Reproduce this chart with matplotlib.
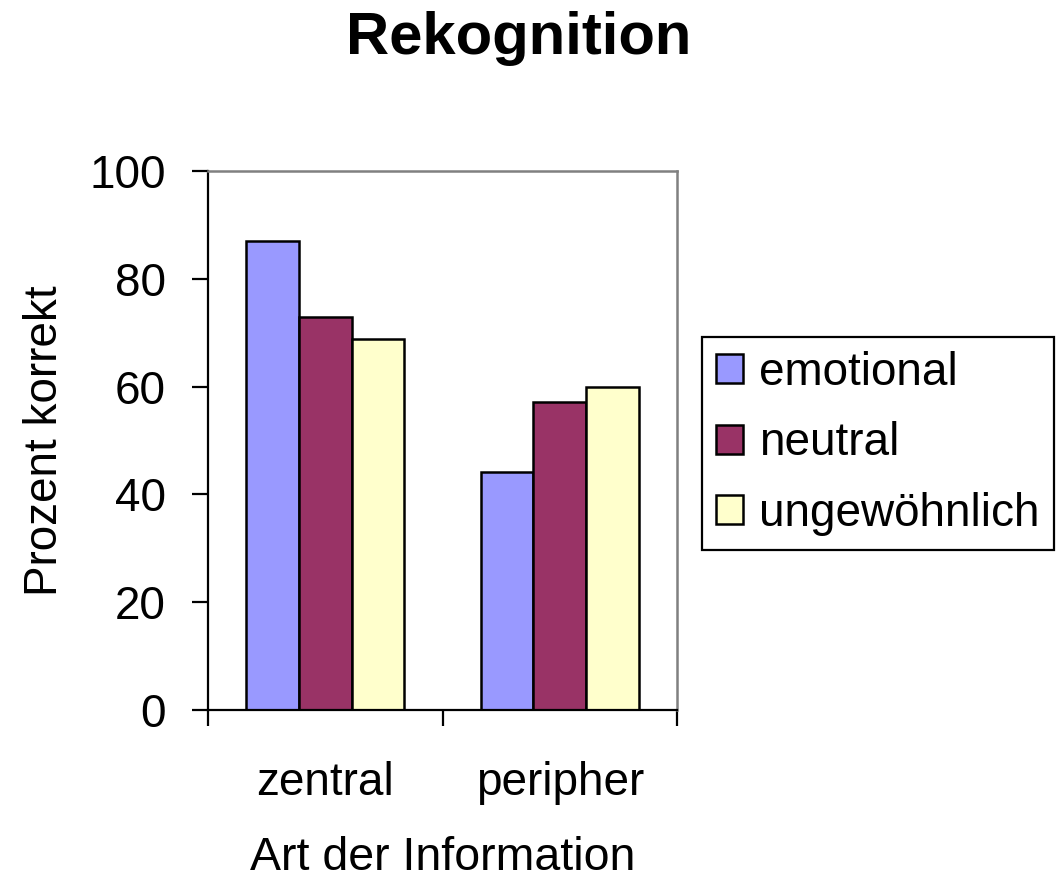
import matplotlib.pyplot as plt
import numpy as np

categories = ["zentral", "peripher"]
series = ["emotional", "neutral", "ungewöhnlich"]
values = {
    "emotional": [87, 44.2],
    "neutral": [73, 57.2],
    "ungewöhnlich": [68.8, 60],
}
colors = ["#9999FF", "#993366", "#FFFFCC"]

plt.rcParams["font.family"] = ["Liberation Sans", "DejaVu Sans"]

fig = plt.figure(figsize=(10.58, 8.8), dpi=100)
ax = fig.add_axes([0.1966, 0.1932, 0.4433, 0.6125])

x = np.arange(len(categories))
width = 0.225
for i, (name, color) in enumerate(zip(series, colors)):
    ax.bar(x + (i - 1) * width, values[name], width, color=color,
           edgecolor="black", linewidth=1.8, label=name)

ax.set_xlim(-0.5, 1.5)
ax.set_ylim(0, 100)
ax.set_yticks([0, 20, 40, 60, 80, 100])
ax.set_xticks(x, categories)
ax.set_xticks([-0.5, 0.5, 1.5], minor=True)
ax.tick_params(axis="x", which="major", length=0, pad=37, labelsize=33)
ax.tick_params(axis="x", which="minor", length=11.5, width=1.6, direction="out")
ax.tick_params(axis="y", length=11.5, width=1.6, pad=19, labelsize=33)

for side in ("top", "right"):
    ax.spines[side].set_color("#808080")
    ax.spines[side].set_linewidth(1.8)
for side in ("left", "bottom"):
    ax.spines[side].set_linewidth(1.6)

ax.set_xlabel("Art der Information", fontsize=33.5, labelpad=22)
ax.set_ylabel("Prozent korrekt", fontsize=33, labelpad=16)
fig.suptitle("Rekognition", fontsize=43, fontweight="bold", x=0.49, y=0.987)

leg = fig.legend(loc="upper left", bbox_to_anchor=(0.6635, 0.617),
                 fontsize=33, frameon=True, fancybox=False, framealpha=1,
                 edgecolor="black", handlelength=0.6, handleheight=0.6,
                 handletextpad=0.35, labelspacing=0.58, borderpad=0.3,
                 borderaxespad=0)
leg.get_frame().set_linewidth(1.6)

fig.savefig("out.png", dpi=100)
